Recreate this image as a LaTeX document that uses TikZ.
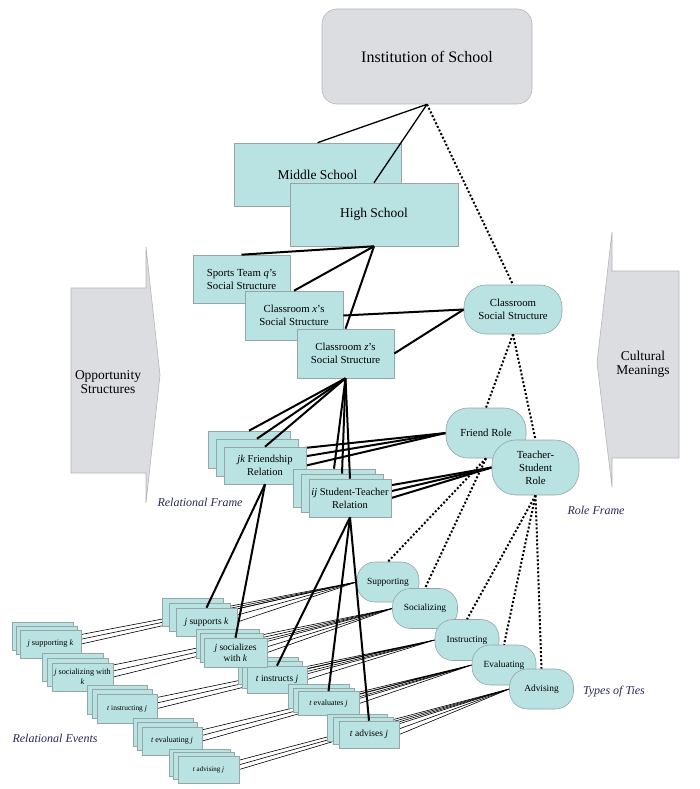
\documentclass[tikz,border=0pt]{standalone}
\usepackage{fontspec}
\setmainfont{Liberation Serif}
\usetikzlibrary{backgrounds}
\definecolor{boxfill}{RGB}{185,226,226}
\definecolor{boxline}{RGB}{150,165,165}
\definecolor{greyfill}{RGB}{220,221,224}
\definecolor{greyline}{RGB}{180,181,184}
\definecolor{labelink}{RGB}{40,40,90}
\tikzset{
  tealbox/.style={draw=boxline,fill=boxfill,align=center,inner sep=1pt,line width=0.6pt},
  pill/.style={tealbox,rounded corners=#1},
  greybox/.style={draw=greyline,fill=greyfill,line width=0.6pt},
  thickline/.style={line width=2pt},
  thinline/.style={line width=0.6pt},
  dotline/.style={line width=2pt,dash pattern=on 2pt off 2pt},
  framelabel/.style={text=labelink,font=\fontsize{12}{14}\selectfont\itshape},
  midfont/.style={font=\fontsize{10.8}{13}\selectfont},
  tiefont/.style={font=\fontsize{9.4}{11}\selectfont}
}
\begin{document}
\begin{tikzpicture}[x=1pt,y=-1pt]
  \useasboundingbox (0,0) rectangle (699,789);
  \draw[greybox] (71,288) -- (146,288) -- (146,247) -- (160,375) -- (146,503) -- (146,473) -- (71,473) -- cycle;
  \node[align=center,font=\fontsize{13.5}{14}\selectfont] (opp) at (108,382) {Opportunity\\Structures};
  \draw[greybox] (679,271) -- (612,271) -- (612,232) -- (597,363) -- (612,487) -- (612,458) -- (679,458) -- cycle;
  \node[align=center,font=\fontsize{13.5}{14}\selectfont] (cult) at (643,364) {Cultural\\Meanings};

  \node[greybox,rounded corners=15pt,minimum width=210,minimum height=95,font=\fontsize{16}{18}\selectfont] (inst) at (427,56.5) {Institution of School};
  \node[tealbox,minimum width=167,minimum height=63,font=\fontsize{13.5}{15}\selectfont] (ms) at (317.5,174.5) {Middle School};
  \node[tealbox,minimum width=168,minimum height=63,font=\fontsize{13.5}{15}\selectfont] (hs) at (374,214.5) {High School};
  \node[tealbox,midfont,minimum width=97,minimum height=48] (sport) at (241.5,279) {Sports Team \textit{q}'s\\Social Structure};
  \node[tealbox,midfont,minimum width=98,minimum height=49] (cx) at (294,315.5) {Classroom \textit{x}'s\\Social Structure};
  \node[tealbox,midfont,minimum width=97,minimum height=49] (cz) at (345.5,353.5) {Classroom \textit{z}'s\\Social Structure};
  \node[pill=22pt,midfont,minimum width=98,minimum height=49] (css) at (513,309.5) {Classroom\\Social Structure};
  \node[pill=22pt,midfont,minimum width=80,minimum height=50] (fr) at (486,433) {Friend Role};
  \node[pill=24pt,midfont,minimum width=87,minimum height=55] (ts) at (535.5,467.5) {Teacher-\\Student\\Role};

  \foreach \i in {0,1,2}
    \node[tealbox,minimum width=82,minimum height=37,font=\fontsize{10.5}{12.5}\selectfont] (jk\i) at ({265-(2-\i)*8},{465.5-(2-\i)*8}) {\ifnum\i=2 \textit{jk} Friendship\\Relation\fi};
  \foreach \i in {0,1,2}
    \node[tealbox,minimum width=82,minimum height=38,font=\fontsize{10.5}{13}\selectfont] (ij\i) at ({350-(2-\i)*8},{498-(2-\i)*5}) {\ifnum\i=2 \textit{ij} Student-Teacher\\Relation\fi};

  \node[pill=18pt,tiefont,minimum width=62,minimum height=40] (supo) at (388,582) {Supporting};
  \node[pill=18pt,tiefont,minimum width=65,minimum height=40] (soco) at (425,608.5) {Socializing};
  \node[pill=18pt,tiefont,minimum width=64,minimum height=41] (inso) at (467,640) {Instructing};
  \node[pill=18pt,tiefont,minimum width=64,minimum height=40] (evao) at (504,665) {Evaluating};
  \node[pill=18pt,tiefont,minimum width=64,minimum height=40] (advo) at (541.5,689) {Advising};

  \foreach \nm/\cx/\cy/\sx/\sy/\w/\h/\fa/\fb/\txt in {
      sup/206.5/622/7/5/61/28/9.5/11/{\textit{j} supports \textit{k}},
      ins/277/679.5/4.5/4.5/60/27/9.5/11/{\textit{t} instructs \textit{j}},
      soc/235.5/652.5/4/4.5/63/29/9.5/11/{\textit{j} socializes\\with \textit{k}},
      eva/328.5/703.5/5/3.5/61/24/8/9.5/{\textit{t} evaluates \textit{j}},
      adv/369/734.5/6/3.5/60/27/9.5/11/{\textit{t} advises \textit{j}},
      sing/50.5/644/4/4/61/28/8.3/10/{\textit{j} supporting \textit{k}},
      cing/82.5/677/5/5/61/28/8.2/10/{\textit{j} socializing with\\\textit{k}},
      ting/127/708.5/5/4.5/60/29/7.4/9/{\textit{t} instructing \textit{j}},
      ving/172/741/4.5/4.5/60/28/8/10/{\textit{t} evaluating \textit{j}},
      aing/208.5/769.5/4.5/3.5/61/27/7/9/{\textit{t} advising \textit{j}}}
    \foreach \i in {0,1,2}
      \node[tealbox,minimum width=\w,minimum height=\h,font=\fontsize{\fa}{\fb}\selectfont] (\nm\i) at ({\cx-(2-\i)*\sx},{\cy-(2-\i)*\sy}) {\ifnum\i=2 \txt\fi};

  \begin{scope}[on background layer]
    \foreach \i in {0,1,2}
      \draw[thickline] (fr.west) -- (jk\i.east) (ts.west) -- (ij\i.east);
    \foreach \t/\a/\b in {supo/sup/sing,soco/soc/cing,inso/ins/ting,evao/eva/ving,advo/adv/aing}
      \foreach \i in {0,1,2}
        \draw[thinline] (\t.west) -- (\a\i.east) (\t.west) -- (\b\i.east);
  \end{scope}

  \draw[line width=1.3pt] (inst.south) -- (ms.north) (inst.south) -- (hs.north);
  \draw[dotline] (inst.south) -- (css.north);
  \foreach \n in {sport,cx,cz} \draw[thickline] (hs.south) -- (\n.north);
  \foreach \n in {cx,cz} \draw[thickline] (css.west) -- (\n.east);
  \foreach \n in {fr,ts} \draw[dotline] (css.south) -- (\n.north);
  \foreach \i in {0,1,2} \draw[thickline] (cz.south) -- (jk\i.north) (cz.south) -- (ij\i.north);
  \foreach \n in {sup,soc} \draw[thickline] (jk2.south) -- (\n2.north);
  \foreach \n in {ins,eva,adv} \draw[thickline] (ij2.south) -- (\n2.north);
  \foreach \n in {supo,soco} \draw[dotline] (fr.south) -- (\n.north);
  \foreach \n in {inso,evao,advo} \draw[dotline] (ts.south) -- (\n.north);

  \node[framelabel] (relframe) at (200,502) {Relational Frame};
  \node[framelabel] (roleframe) at (596,510) {Role Frame};
  \node[framelabel] (ties) at (614,692) {Types of Ties};
  \node[framelabel] (relevents) at (55,738) {Relational Events};
\end{tikzpicture}
\end{document}
